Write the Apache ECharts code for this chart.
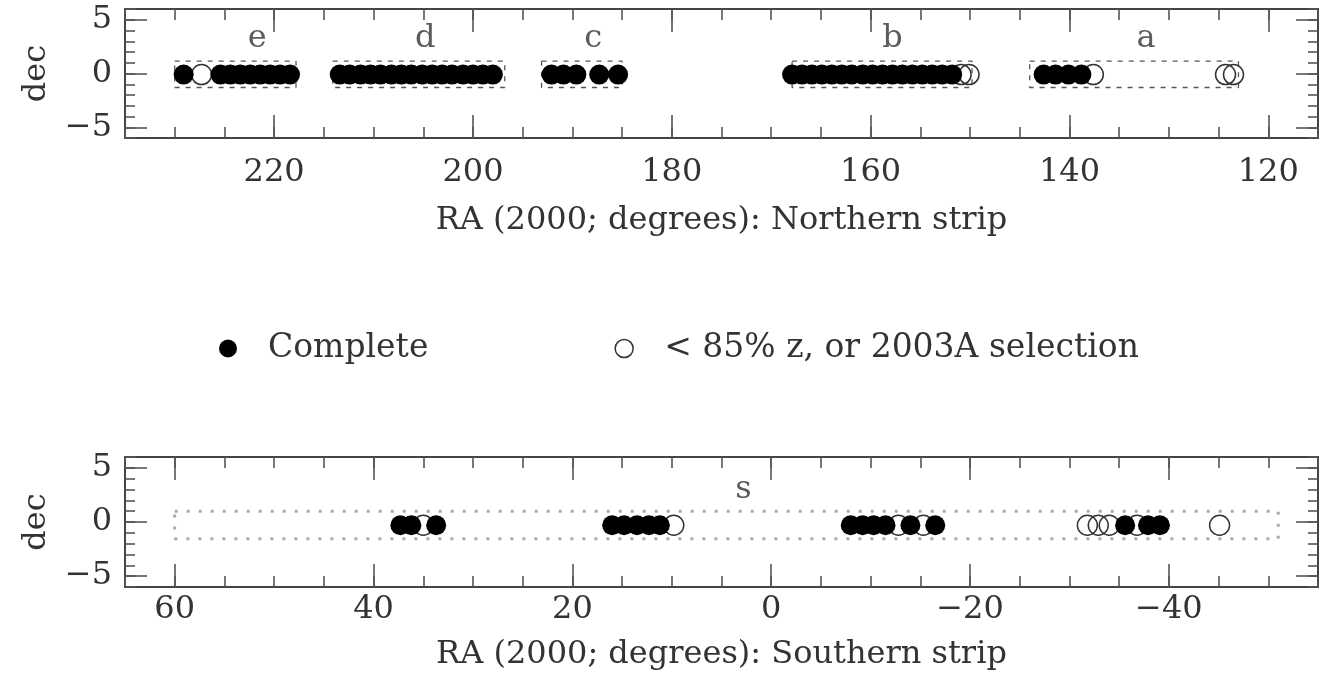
<!DOCTYPE html>
<html>
<head>
<meta charset="utf-8">
<script src="https://cdn.jsdelivr.net/npm/echarts@6/dist/echarts.min.js"></script>
<style>
html,body{margin:0;padding:0;background:#fff;}
#chart{width:1319px;height:686px;}
</style>
</head>
<body>
<div id="chart"></div>
<script>
// ---------------- DATA ----------------
const northFilledRA = [
  229.1, 225.4, 224.4, 223.4, 222.4, 221.4, 220.4, 219.4, 218.4,
  213.4, 212.4, 211.3, 210.3, 209.3, 208.2, 207.2, 206.2, 205.1, 204.1, 203.1, 202.1, 201.0, 200.0, 199.0, 198.0,
  192.1, 190.9, 189.6, 187.3, 185.4,
  167.9, 166.9, 165.9, 164.9, 163.9, 162.9, 161.9, 160.8, 159.8, 158.8, 157.8, 156.8, 155.8, 154.8, 153.8, 152.8, 151.8,
  142.6, 141.4, 140.1, 138.8
];
const northOpenRA = [227.3, 150.9, 150.1, 137.6, 124.3, 123.5];
const northDec = -0.1;

const southFilledRA = [
  37.3, 36.2, 33.7,
  16.0, 14.8, 13.5, 12.3, 11.2,
  -8.0, -9.2, -10.3, -11.5, -14.0, -16.5,
  -35.6, -37.9, -39.1
];
const southOpenRA = [35.0, 9.8, -12.8, -15.3, -31.8, -32.9, -34.0, -36.8, -45.1];
const southDec = -0.3;

// stripe boxes: [raStart, raEnd, decTop, decBottom]
const northBoxes = [
  [230.0, 217.8, 1.15, -1.3],
  [214.1, 196.8, 1.15, -1.3],
  [193.1, 185.0, 1.15, -1.3],
  [167.9, 149.8, 1.15, -1.3],
  [144.0, 123.0, 1.15, -1.3]
];
const southBoxes = [
  [60.0, -51.0, 1.0, -1.55]
];

const northLabels = [['e', 221.7], ['d', 204.8], ['c', 187.9], ['b', 157.8], ['a', 132.3]];
const southLabels = [['s', 2.8]];
const northLabelDec = 3.2;
const southLabelDec = 3.0;

const northRange = [115, 235];
const southRange = [-55, 65];
const northMajorTicks = [120, 140, 160, 180, 200, 220];
const southMajorTicks = [-40, -20, 0, 20, 40, 60];
const decRange = [-6, 6];
const decMajorTicks = [-5, 0, 5];

const nameFilled = 'Complete';
const nameOpen = '< 85% z, or 2003A selection';
const titleNorth = 'RA (2000; degrees): Northern strip';
const titleSouth = 'RA (2000; degrees): Southern strip';
const titleDec = 'dec';

// ---------------- STYLE ----------------
const FONT = 'DejaVu Serif';
const TXT = '#333';
const TICK = '#555';
const fmt = v => String(v).replace('-', '\u2212');

function xAxes(gridIndex, range, major, title, labelMargin, nameGap) {
  const base = {
    type: 'value', gridIndex, min: range[0], max: range[1], inverse: true,
    splitLine: {show: false}, axisLine: {show: false, onZero: false}
  };
  return [
    Object.assign({}, base, {
      position: 'bottom', interval: 5,
      axisTick: {show: true, inside: true, length: 11, lineStyle: {color: TICK, width: 1.6}},
      axisLabel: {show: true, customValues: major, formatter: fmt, margin: labelMargin,
        fontFamily: FONT, fontSize: 32, color: TXT},
      name: title, nameLocation: 'middle', nameGap: nameGap,
      nameTextStyle: {fontFamily: FONT, fontSize: 32, color: TXT}
    }),
    Object.assign({}, base, {
      position: 'bottom',
      axisTick: {show: true, inside: true, length: 23, customValues: major, lineStyle: {color: TICK, width: 1.6}},
      axisLabel: {show: false}
    }),
    Object.assign({}, base, {
      position: 'top', interval: 5,
      axisTick: {show: true, inside: true, length: 11, lineStyle: {color: TICK, width: 1.6}},
      axisLabel: {show: false}
    }),
    Object.assign({}, base, {
      position: 'top',
      axisTick: {show: true, inside: true, length: 23, customValues: major, lineStyle: {color: TICK, width: 1.6}},
      axisLabel: {show: false}
    })
  ];
}

function yAxes(gridIndex) {
  const base = {
    type: 'value', gridIndex, min: decRange[0], max: decRange[1],
    splitLine: {show: false}, axisLine: {show: false, onZero: false}
  };
  return [
    Object.assign({}, base, {
      position: 'left', interval: 1,
      axisTick: {show: true, inside: true, length: 10, lineStyle: {color: TICK, width: 1.6}},
      axisLabel: {show: true, customValues: decMajorTicks, formatter: fmt, margin: 13,
        fontFamily: FONT, fontSize: 32, color: TXT},
      name: titleDec, nameLocation: 'middle', nameGap: 72, nameRotate: 90,
      nameTextStyle: {fontFamily: FONT, fontSize: 32, color: TXT}
    }),
    Object.assign({}, base, {
      position: 'left',
      axisTick: {show: true, inside: true, length: 22, customValues: decMajorTicks, lineStyle: {color: TICK, width: 1.6}},
      axisLabel: {show: false}
    }),
    Object.assign({}, base, {
      position: 'right', interval: 1,
      axisTick: {show: true, inside: true, length: 10, lineStyle: {color: TICK, width: 1.6}},
      axisLabel: {show: false}
    }),
    Object.assign({}, base, {
      position: 'right',
      axisTick: {show: true, inside: true, length: 22, customValues: decMajorTicks, lineStyle: {color: TICK, width: 1.6}},
      axisLabel: {show: false}
    })
  ];
}

function boxSeries(boxes, xi, yi, dash, color, width) {
  return boxes.map(b => ({
    type: 'line', xAxisIndex: xi, yAxisIndex: yi, silent: true,
    symbol: 'none', animation: false, z: 1,
    lineStyle: {type: dash, color, width},
    data: [[b[0], b[2]], [b[1], b[2]], [b[1], b[3]], [b[0], b[3]], [b[0], b[2]]]
  }));
}

function pointSeries(filled, open, dec, xi, yi) {
  return [
    {
      name: nameOpen, type: 'scatter', xAxisIndex: xi, yAxisIndex: yi,
      symbol: 'circle', symbolSize: 20, animation: false, z: 2,
      itemStyle: {color: 'rgba(255,255,255,0)', borderColor: '#333', borderWidth: 1.5, opacity: 1},
      data: open.map(r => [r, dec])
    },
    {
      name: nameFilled, type: 'scatter', xAxisIndex: xi, yAxisIndex: yi,
      symbol: 'circle', symbolSize: 20, animation: false, z: 3,
      itemStyle: {color: '#000', opacity: 1},
      data: filled.map(r => [r, dec])
    }
  ];
}

function labelSeries(labels, dec, xi, yi) {
  return {
    type: 'scatter', xAxisIndex: xi, yAxisIndex: yi, symbolSize: 0, silent: true,
    animation: false, z: 4,
    label: {show: true, position: 'inside', formatter: '{b}',
      fontFamily: FONT, fontSize: 32, color: TXT},
    data: labels.map(l => ({name: l[0], value: [l[1], dec]}))
  };
}

const chart = echarts.init(document.getElementById('chart'), null, {renderer: 'canvas'});
const option = {
  backgroundColor: '#fff',
  animation: false,
  grid: [
    {left: 125, top: 9, width: 1193, height: 129, show: true, borderColor: '#444', borderWidth: 2, backgroundColor: 'transparent'},
    {left: 125, top: 457, width: 1193, height: 130, show: true, borderColor: '#444', borderWidth: 2, backgroundColor: 'transparent'}
  ],
  xAxis: [].concat(
    xAxes(0, northRange, northMajorTicks, titleNorth, 19, 67),
    xAxes(1, southRange, southMajorTicks, titleSouth, 7, 52)
  ),
  yAxis: [].concat(yAxes(0), yAxes(1)),
  legend: [
    {
      left: 214, top: 327, itemWidth: 18, itemHeight: 20, itemGap: 186,
      selectedMode: false,
      textStyle: {fontFamily: FONT, fontSize: 33, color: TXT, padding: [0, 0, 0, 26]},
      data: [
        {name: nameFilled, icon: 'circle', itemStyle: {color: '#000'}},
        {name: nameOpen, icon: 'circle', itemStyle: {color: '#fff', borderColor: '#333', borderWidth: 1.5}}
      ]
    }
  ],
  series: [].concat(
    boxSeries(northBoxes, 0, 0, [5, 6], '#555', 1.3),
    boxSeries(southBoxes, 4, 4, [3, 9], '#aaa', 3),
    pointSeries(northFilledRA, northOpenRA, northDec, 0, 0),
    pointSeries(southFilledRA, southOpenRA, southDec, 4, 4),
    [labelSeries(northLabels, northLabelDec, 0, 0), labelSeries(southLabels, southLabelDec, 4, 4)]
  )
};
chart.setOption(option);
</script>
</body>
</html>
